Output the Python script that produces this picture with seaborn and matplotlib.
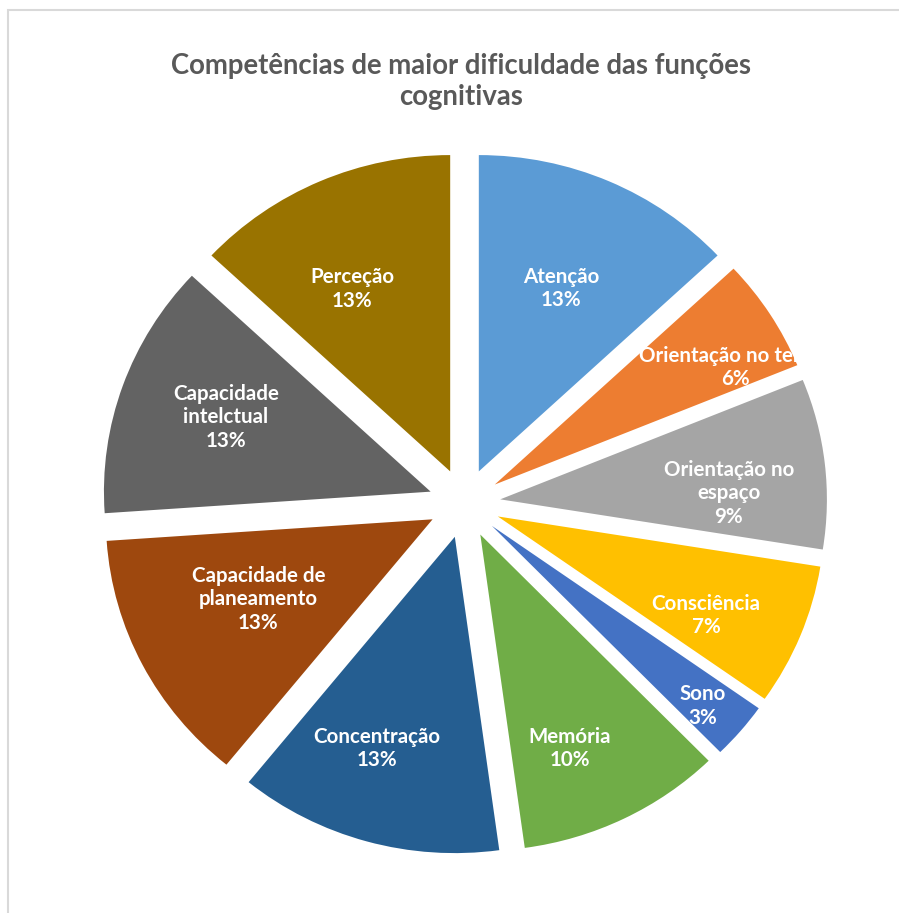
import numpy as np
import seaborn as sns
import matplotlib.pyplot as plt
from matplotlib.patches import Rectangle

# counts per competence (percentages are derived from these, total 69)
categories = ['Atenção', 'Orientação no tempo', 'Orientação no\nespaço', 'Consciência', 'Sono',
              'Memória', 'Concentração', 'Capacidade de\nplaneamento', 'Capacidade\nintelctual', 'Perceção']
counts = [9, 4, 6, 5, 2, 7, 9, 9, 9, 9]
colors = ['#5B9BD5', '#ED7D31', '#A5A5A5', '#FFC000', '#4472C4',
          '#70AD47', '#255E91', '#9E480E', '#636363', '#997300']

title = 'Competências de maior dificuldade das funções\ncognitivas'

# label placement (fraction of radius from the exploded slice tip, plus angle nudge in degrees)
label_radius = [0.63, 0.825, 0.70, 0.71, 0.86, 0.73, 0.71, 0.59, 0.67, 0.65]
label_shift = [0, 6, 5, 4, 1, 4, 4, 2, 1, -4]

sns.set_theme(style='white')
plt.rcParams['font.family'] = ['Lato', 'DejaVu Sans']

W, H = 899, 913
fig = plt.figure(figsize=(W / 100, H / 100), dpi=100)
ax = fig.add_axes([0, 0, 1, 1])

explode = 0.11
total = sum(counts)
wedges, _ = ax.pie(counts, colors=colors, explode=[explode] * len(counts),
                   startangle=90, counterclock=False,
                   wedgeprops=dict(linewidth=0))

# pixel geometry of the reference: centre and (slightly stretched) radius
cx, cy, rx, ry = 464.5, 503.3, 326.7, 316.3
ax.set_aspect('auto')
ax.set_xlim(-cx / rx, (W - cx) / rx)
ax.set_ylim((cy - H) / ry, cy / ry)
ax.axis('off')

for w, name, c, lr, sh in zip(wedges, categories, counts, label_radius, label_shift):
    mid = np.deg2rad((w.theta1 + w.theta2) / 2)
    ox, oy = w.center
    a = mid - np.deg2rad(sh)
    pct = round(100 * c / total)
    ax.text(ox + lr * np.cos(a), oy + lr * np.sin(a), f'{name}\n{pct}%',
            ha='center', va='center', color='white', fontsize=14.8,
            fontweight='bold', linespacing=1.22)

fig.text(461 / W, 1 - 81.5 / H, title, ha='center', va='center',
         fontsize=19.8, fontweight='bold', color='#595959', linespacing=1.26)

# light chart-area border (only top and left edges visible in the crop)
fig.add_artist(Rectangle((8 / W, -0.1), 1.2, 1.1 - 10 / H, transform=fig.transFigure,
                         fill=False, edgecolor='#D9D9D9', linewidth=1.5))

fig.savefig('out.png', dpi=100, facecolor='white')
